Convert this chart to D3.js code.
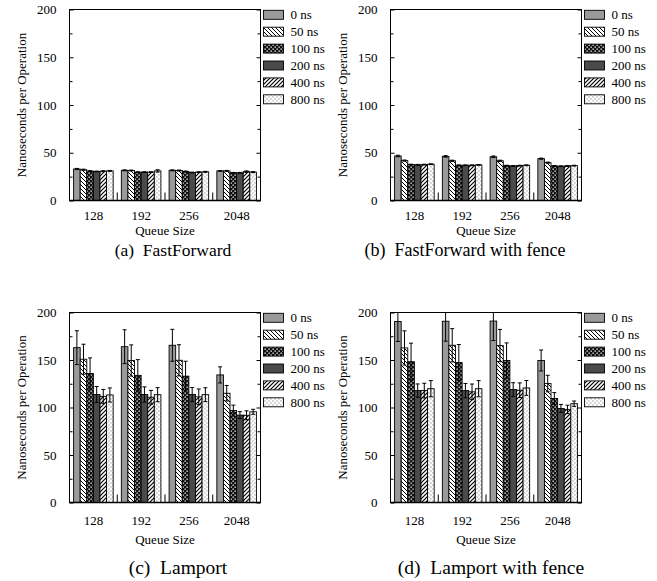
<!DOCTYPE html>
<html>
<head>
<meta charset="utf-8">
<script src="https://cdn.jsdelivr.net/npm/d3@7"></script>
<style>
  html, body { margin: 0; padding: 0; background: #fff; }
  svg { display: block; }
  text { font-family: "Liberation Serif", "Times New Roman", Times, serif; fill: #000; }
</style>
</head>
<body>
<svg id="chart" width="657" height="581" font-family="Liberation Serif, serif"></svg>
<script>
// ---------------- data ----------------
const categories = ["128", "192", "256", "2048"];
const seriesNames = ["0 ns", "50 ns", "100 ns", "200 ns", "400 ns", "800 ns"];
const yTicks = [0, 50, 100, 150, 200];
const yMinorTicks = [25, 75, 125, 175];

// values[series][category]
const fastForwardValues = [
  [33.0, 31.6, 31.6, 31.0],
  [32.2, 31.4, 31.4, 31.0],
  [30.8, 29.7, 30.4, 29.0],
  [30.4, 29.7, 29.3, 29.0],
  [30.7, 29.7, 29.7, 30.2],
  [31.0, 31.0, 30.0, 29.7]
];
const fastForwardErrors = [
  [0.6, 0.5, 0.5, 0.4],
  [0.6, 0.5, 0.5, 0.5],
  [0.5, 0.4, 0.5, 0.4],
  [0.4, 0.4, 0.4, 0.4],
  [0.5, 0.4, 0.4, 0.8],
  [0.5, 1.2, 0.5, 0.5]
];
const fastForwardFenceValues = [
  [46.6, 46.2, 45.8, 43.8],
  [41.8, 41.6, 41.6, 39.6],
  [37.6, 36.9, 36.5, 36.2],
  [37.4, 36.9, 36.2, 35.9],
  [37.6, 36.9, 36.5, 36.2],
  [38.0, 37.3, 36.9, 36.5]
];
const fastForwardFenceErrors = [
  [0.8, 0.8, 0.8, 0.6],
  [0.6, 0.6, 0.6, 0.6],
  [0.4, 0.4, 0.4, 0.4],
  [0.4, 0.4, 0.4, 0.4],
  [0.4, 0.4, 0.4, 0.4],
  [0.4, 0.4, 0.4, 0.4]
];
const lamportValues = [
  [163.0, 164.0, 165.5, 134.3],
  [150.8, 149.5, 149.7, 115.0],
  [135.8, 133.8, 133.0, 96.8],
  [113.7, 113.7, 113.7, 92.0],
  [111.7, 110.8, 111.2, 91.8],
  [113.2, 113.5, 113.5, 95.5]
];
const lamportErrors = [
  [17.8, 17.8, 16.8, 8.5],
  [15.8, 16.4, 16.4, 8.2],
  [16.4, 16.6, 15.7, 5.7],
  [8.4, 8.0, 7.3, 3.6],
  [7.3, 7.2, 8.3, 4.7],
  [7.4, 7.4, 7.3, 2.6]
];
const lamportFenceValues = [
  [190.5, 190.8, 191.0, 149.5],
  [162.7, 165.5, 165.2, 125.2],
  [148.2, 147.3, 149.5, 109.5],
  [117.8, 117.8, 118.9, 99.0],
  [117.8, 116.5, 118.2, 98.0],
  [119.8, 119.8, 120.6, 104.0]
];
const lamportFenceErrors = [
  [21.0, 21.0, 20.5, 11.0],
  [18.0, 17.5, 17.0, 8.7],
  [19.5, 19.0, 18.5, 6.2],
  [7.0, 7.5, 7.2, 4.2],
  [7.7, 8.2, 7.7, 4.4],
  [8.5, 8.5, 7.8, 2.8]
];
const captions = ["(a)  FastForward", "(b)  FastForward with fence", "(c)  Lamport", "(d)  Lamport with fence"];
const xAxisTitle = "Queue Size";
const yAxisTitle = "Nanoseconds per Operation";

// ---------------- layout ----------------
const panels = [
  { values: fastForwardValues, errors: fastForwardErrors, caption: captions[0],
    left: 69.5, right: 260.5, top: 9.5, bottom: 200.5, labelY: 220, titleY: 234.5, capX: 173, capY: 256, capSize: 17.5 },
  { values: fastForwardFenceValues, errors: fastForwardFenceErrors, caption: captions[1],
    left: 390.5, right: 581.5, top: 9.5, bottom: 200.5, labelY: 220, titleY: 234.5, capX: 465, capY: 256, capSize: 18 },
  { values: lamportValues, errors: lamportErrors, caption: captions[2],
    left: 69.5, right: 260.5, top: 312.5, bottom: 502.5, labelY: 524.5, titleY: 543.5, capX: 178, capY: 574, capSize: 19.5 },
  { values: lamportFenceValues, errors: lamportFenceErrors, caption: captions[3],
    left: 390.5, right: 581.5, top: 312.5, bottom: 502.5, labelY: 524.5, titleY: 543.5, capX: 491, capY: 574, capSize: 19.5 }
];

const svg = d3.select("#chart");
const defs = svg.append("defs");

// patterns
function patternLines(id, d, w) {
  const p = defs.append("pattern").attr("id", id).attr("patternUnits", "userSpaceOnUse")
    .attr("width", 4).attr("height", 4);
  p.append("rect").attr("width", 4).attr("height", 4).attr("fill", "#fff");
  p.append("path").attr("d", d).attr("stroke", "#000").attr("stroke-width", w);
}
patternLines("p50", "M-1,-1 L5,5 M-1,3 L1,5 M3,-1 L5,1", 1.0);
patternLines("p400", "M-1,5 L5,-1 M-1,1 L1,-1 M3,5 L5,3", 1.2);
{
  const p = defs.append("pattern").attr("id", "p100").attr("patternUnits", "userSpaceOnUse")
    .attr("width", 4).attr("height", 4);
  p.append("rect").attr("width", 4).attr("height", 4).attr("fill", "#111");
  p.append("rect").attr("x", 0.5).attr("y", 0.5).attr("width", 1.3).attr("height", 1.3).attr("fill", "#fff");
  p.append("rect").attr("x", 2.5).attr("y", 2.5).attr("width", 1.3).attr("height", 1.3).attr("fill", "#fff");
}
{
  const p = defs.append("pattern").attr("id", "p800").attr("patternUnits", "userSpaceOnUse")
    .attr("width", 4).attr("height", 4);
  p.append("rect").attr("width", 4).attr("height", 4).attr("fill", "#fff");
  p.append("rect").attr("x", 0.5).attr("y", 0.5).attr("width", 0.9).attr("height", 0.9).attr("fill", "#444");
  p.append("rect").attr("x", 2.5).attr("y", 2.5).attr("width", 0.9).attr("height", 0.9).attr("fill", "#444");
}
const fills = ["#9a9a9a", "url(#p50)", "url(#p100)", "#4a4a4a", "url(#p400)", "url(#p800)"];
const serif = "'Liberation Serif', 'Times New Roman', serif";

panels.forEach((P, pi) => {
  const g = svg.append("g");
  const x = d3.scaleBand().domain(categories).range([P.left, P.right]).padding(0);
  const xs = d3.scaleBand().domain(seriesNames).range([0, x.bandwidth()])
    .paddingInner(0).paddingOuter(0.62);
  const y = d3.scaleLinear().domain([0, 200]).range([P.bottom, P.top]);

  const clipId = "clip" + pi;
  defs.append("clipPath").attr("id", clipId).append("rect")
    .attr("x", P.left).attr("y", P.top).attr("width", P.right - P.left).attr("height", P.bottom - P.top);

  // bars
  const rows = [];
  seriesNames.forEach((s, si) => categories.forEach((c, ci) => {
    rows.push({ s, si, c, v: P.values[si][ci], e: P.errors[si][ci] });
  }));
  const plot = g.append("g").attr("clip-path", `url(#${clipId})`);
  plot.selectAll("rect.bar").data(rows).join("rect").attr("class", "bar")
    .attr("x", d => x(d.c) + xs(d.s))
    .attr("y", d => y(d.v))
    .attr("width", xs.bandwidth())
    .attr("height", d => y(0) - y(d.v))
    .attr("fill", d => fills[d.si])
    .attr("stroke", "#000").attr("stroke-width", 0.9);

  // error bars
  const eb = plot.selectAll("g.err").data(rows).join("g").attr("class", "err")
    .attr("stroke", "#000").attr("stroke-width", 1).attr("fill", "none");
  eb.append("path").attr("d", d => {
    const cx = x(d.c) + xs(d.s) + xs.bandwidth() / 2;
    const y1 = y(d.v + d.e), y0 = y(d.v - d.e);
    return `M${cx},${y0}V${y1}M${cx - 2},${y1}H${cx + 2}M${cx - 2},${y0}H${cx + 2}`;
  });

  // y axes (inward ticks, mirrored)
  const axL = g.append("g").attr("transform", `translate(${P.left},0)`)
    .call(d3.axisLeft(y).tickValues(yTicks).tickSize(-4).tickPadding(13).tickFormat(d3.format("d")));
  axL.attr("font-family", serif).attr("font-size", 13);
  axL.select(".domain").remove();
  axL.selectAll("text").style("font-family", serif).style("font-size", "13px").attr("fill", "#000");
  axL.selectAll("line").attr("stroke", "#000");
  const axLm = g.append("g").attr("transform", `translate(${P.left},0)`)
    .call(d3.axisLeft(y).tickValues(yMinorTicks).tickSize(-3).tickFormat(""));
  axLm.select(".domain").remove();
  const axR = g.append("g").attr("transform", `translate(${P.right},0)`)
    .call(d3.axisRight(y).tickValues(yTicks).tickSize(-4).tickFormat(""));
  axR.select(".domain").remove();
  const axRm = g.append("g").attr("transform", `translate(${P.right},0)`)
    .call(d3.axisRight(y).tickValues(yMinorTicks).tickSize(-3).tickFormat(""));
  axRm.select(".domain").remove();

  // group separators
  g.selectAll("line.sep").data(categories.slice(1)).join("line").attr("class", "sep")
    .attr("x1", d => x(d)).attr("x2", d => x(d))
    .attr("y1", P.bottom).attr("y2", P.bottom - 8)
    .attr("stroke", "#000").attr("stroke-width", 1);

  // frame
  g.append("rect").attr("x", P.left).attr("y", P.top)
    .attr("width", P.right - P.left).attr("height", P.bottom - P.top)
    .attr("fill", "none").attr("stroke", "#000").attr("stroke-width", 1);
  g.append("line").attr("x1", P.left).attr("x2", P.right).attr("y1", P.bottom).attr("y2", P.bottom)
    .attr("stroke", "#000").attr("stroke-width", 1.6);

  // x tick labels
  g.selectAll("text.xl").data(categories).join("text").attr("class", "xl")
    .attr("x", d => x(d) + x.bandwidth() / 2).attr("y", P.labelY)
    .attr("text-anchor", "middle").style("font-family", serif).style("font-size", "13px").text(d => d);
  g.append("text").attr("x", (P.left + P.right) / 2).attr("y", P.titleY)
    .attr("text-anchor", "middle").style("font-family", serif).style("font-size", "13px").text(xAxisTitle);
  g.append("text")
    .attr("transform", `translate(${P.left - 44},${(P.top + P.bottom) / 2}) rotate(-90)`)
    .attr("text-anchor", "middle").style("font-family", serif).style("font-size", "13px").text(yAxisTitle);

  // legend
  const lg = g.append("g");
  const rowY = i => P.top + 5.3 + i * 16.9;
  lg.selectAll("rect").data(seriesNames).join("rect")
    .attr("x", P.right + 3).attr("y", (d, i) => rowY(i) - 4.5)
    .attr("width", 20).attr("height", 9)
    .attr("fill", (d, i) => fills[i]).attr("stroke", "#000").attr("stroke-width", 0.9);
  lg.selectAll("text").data(seriesNames).join("text")
    .attr("x", P.right + 30).attr("y", (d, i) => rowY(i) + 4.5)
    .style("font-family", serif).style("font-size", "13px").text(d => d);

  // caption
  svg.append("text").attr("x", P.capX).attr("y", P.capY).attr("text-anchor", "middle")
    .style("font-family", serif).style("font-size", P.capSize + "px")
    .style("white-space", "pre").attr("xml:space", "preserve")
    .text(P.caption);
});
</script>
</body>
</html>
